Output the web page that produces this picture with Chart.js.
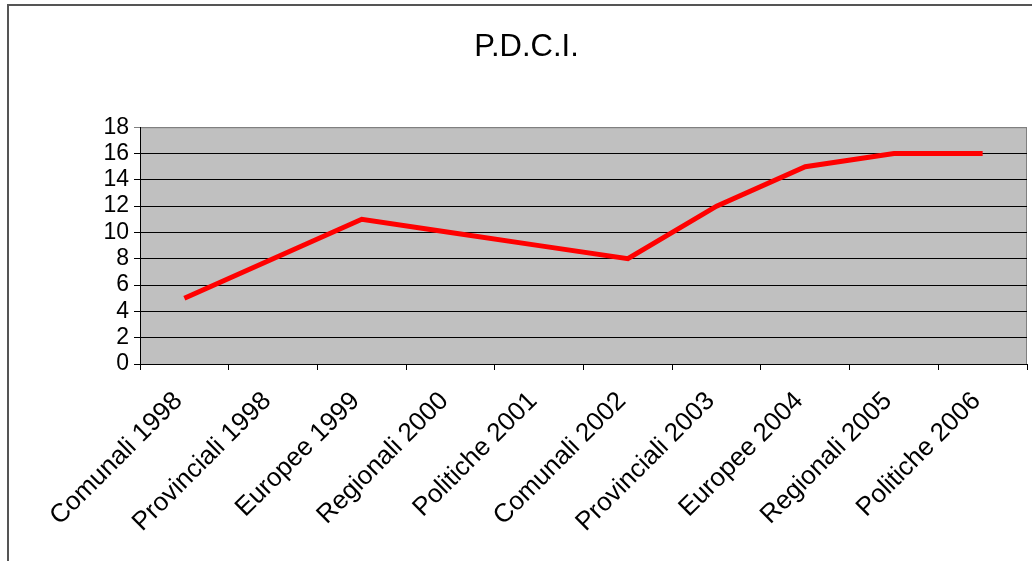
<!DOCTYPE html>
<html>
<head>
<meta charset="utf-8">
<title>P.D.C.I.</title>
<script src="https://cdn.jsdelivr.net/npm/chart.js@4/dist/chart.umd.min.js"></script>
<style>
  html, body { margin: 0; padding: 0; background: #fff; }
  canvas { display: block; }
</style>
</head>
<body>
<canvas id="graficoPdci" width="1032" height="561"></canvas>
<script>
// categorie (elezioni) e valori
var elezioni = ['Comunali 1998', 'Provinciali 1998', 'Europee 1999', 'Regionali 2000', 'Politiche 2001',
                'Comunali 2002', 'Provinciali 2003', 'Europee 2004', 'Regionali 2005', 'Politiche 2006'];
var valori = [5, 8, 11, 10, 9, 8, 12, 15, 16, 16];
var tickY = [0, 2, 4, 6, 8, 10, 12, 14, 16, 18];

// sfondo grigio dell'area del grafico e cornice esterna
var sfondo = {
    id: 'sfondo',
    beforeDraw: function(chart) {
        var c = chart.ctx, a = chart.chartArea;
        c.save();
        c.fillStyle = '#ffffff';
        c.fillRect(0, 0, chart.width, chart.height);
        c.fillStyle = '#c0c0c0';
        c.fillRect(a.left, a.top, a.right - a.left, a.bottom - a.top);
        c.strokeStyle = '#808080';
        c.lineWidth = 1;
        c.strokeRect(a.left + 0.5, a.top + 0.5, a.right - a.left - 1, a.bottom - a.top);
        // cornice
        c.strokeStyle = '#555555';
        c.lineWidth = 2;
        c.beginPath();
        c.moveTo(8, chart.height);
        c.lineTo(8, 5);
        c.lineTo(chart.width, 5);
        c.stroke();
        c.restore();
    }
};

var ctx = document.getElementById('graficoPdci').getContext('2d');

var grafico = new Chart(ctx, {
    type: 'line',
    data: {
        labels: elezioni,
        datasets: [{
            label: 'P.D.C.I.',
            data: valori,
            borderColor: '#ff0000',
            backgroundColor: '#ff0000',
            borderWidth: 5,
            pointRadius: 0,
            tension: 0,
            fill: false
        }]
    },
    options: {
        responsive: false,
        animation: false,
        layout: { padding: { left: 26, top: 10, right: 5, bottom: 0 } },
        plugins: {
            legend: { display: false },
            tooltip: { enabled: false },
            title: {
                display: true,
                text: 'P.D.C.I.',
                color: '#000',
                font: { family: 'Liberation Sans, Arial, sans-serif', size: 31, weight: 'normal' },
                padding: { top: 19, bottom: 61 }
            }
        },
        scales: {
            x: {
                offset: true,
                grid: { display: true, drawOnChartArea: false, offset: true, color: '#000', tickLength: 6 },
                border: { color: '#000', width: 1 },
                ticks: {
                    autoSkip: false,
                    maxRotation: 45,
                    minRotation: 45,
                    padding: 16,
                    labelOffset: -6,
                    color: '#000',
                    font: { family: 'Liberation Sans, Arial, sans-serif', size: 26 }
                },
                afterFit: function(s) { s.height = 197; }
            },
            y: {
                min: 0,
                max: 18,
                afterBuildTicks: function(s) {
                    s.ticks = tickY.map(function(v) { return { value: v }; });
                },
                grid: {
                    color: function(c) { return c.tick && c.tick.value === 18 ? '#808080' : '#000'; },
                    lineWidth: 1,
                    tickLength: 6
                },
                border: { color: '#000', width: 1 },
                ticks: {
                    autoSkip: false,
                    padding: 5,
                    color: '#000',
                    font: { family: 'Liberation Sans, Arial, sans-serif', size: 23 }
                },
                afterFit: function(s) { s.width = 114; }
            }
        }
    },
    plugins: [sfondo]
});
</script>
</body>
</html>
